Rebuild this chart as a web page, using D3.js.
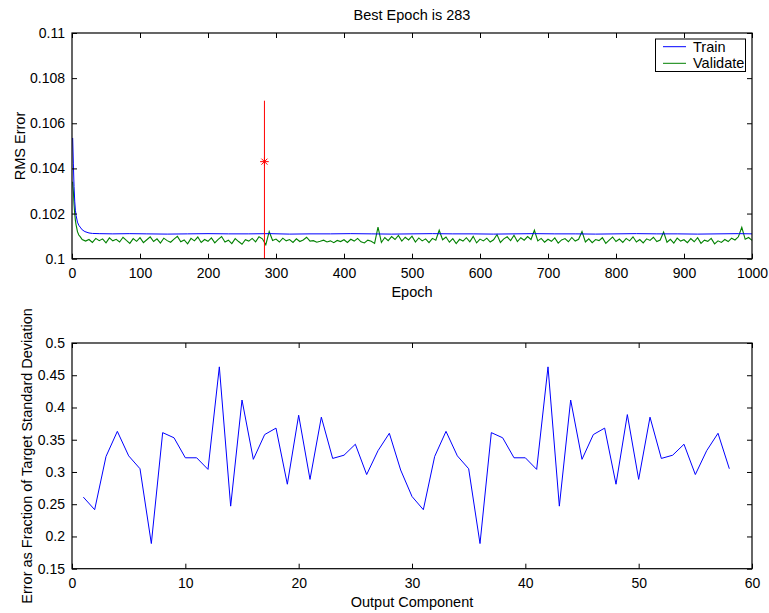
<!DOCTYPE html>
<html>
<head>
<meta charset="utf-8">
<script src="https://cdn.jsdelivr.net/npm/d3@7"></script>
<style>
  body { margin: 0; background: #fff; }
  svg { display: block; font-family: "Liberation Sans", Arial, sans-serif; }
  .domain { display: none; }
  .tick line { stroke: #000; }
</style>
</head>
<body>
<svg id="chart" width="769" height="613"></svg>
<script>
// top panel: performance per epoch
const bestEpoch = 283;
const bestMarker = 0.1043;
const bestLineTop = 0.107;

const trainEpochs = [1, 2, 3, 4, 5, 6, 8, 10, 12, 15, 19, 25, 30, 40, 60, 85, 110, 140, 170, 200, 230, 260, 290, 320, 350, 380, 410, 440, 470, 500, 530, 560, 590, 620, 650, 680, 710, 740, 770, 800, 830, 860, 890, 920, 950, 980, 1000];
const trainValues = [0.10535, 0.1042, 0.1032, 0.10255, 0.10215, 0.10192, 0.10162, 0.10148, 0.1014, 0.10128, 0.1012, 0.10114, 0.10112, 0.10111, 0.1011, 0.10111, 0.1011, 0.10109, 0.1011, 0.10111, 0.1011, 0.1011, 0.10111, 0.10109, 0.1011, 0.1011, 0.10111, 0.1011, 0.10109, 0.1011, 0.10111, 0.1011, 0.1011, 0.10109, 0.1011, 0.10111, 0.1011, 0.1011, 0.10109, 0.1011, 0.10111, 0.1011, 0.1011, 0.10109, 0.1011, 0.10111, 0.1011];

const validateEpochs = [1, 2, 3, 4, 5, 6, 7, 8, 10, 12, 15].concat(d3.range(20, 1001, 5));
const validateValues = [
  0.10341, 0.103, 0.1024, 0.102, 0.1017, 0.1015, 0.10135, 0.1012, 0.10105, 0.10098, 0.10085,
  0.10078, 0.10085, 0.10072, 0.1009, 0.1008, 0.10088, 0.1007, 0.10092, 0.10079, 0.10086,
  0.10074, 0.10095, 0.10081, 0.10068, 0.10089, 0.10077, 0.10093, 0.10071, 0.10084, 0.10097,
  0.10076, 0.10088, 0.10069, 0.10091, 0.1008, 0.10073, 0.10087, 0.10099, 0.10075, 0.10083,
  0.10066, 0.1009, 0.10079, 0.10096, 0.10072, 0.10085, 0.10077, 0.10092, 0.1007, 0.10086,
  0.10098, 0.10074, 0.10082, 0.10067, 0.10089, 0.10076, 0.10064, 0.10084, 0.10078, 0.1009,
  0.10075, 0.10097, 0.10088, 0.10062, 0.1012, 0.10081, 0.10087, 0.10074, 0.10091, 0.10079,
  0.10085, 0.10072, 0.10088, 0.10076, 0.10083, 0.10095, 0.10078, 0.1008, 0.10073, 0.10077,
  0.10082, 0.10074, 0.10079, 0.10071, 0.10081, 0.10076, 0.10084, 0.10072, 0.10086, 0.10078,
  0.1009, 0.10075, 0.1007, 0.10082, 0.10077, 0.10068, 0.1014, 0.10072, 0.10094, 0.1008,
  0.10098, 0.10085, 0.10103, 0.10078, 0.10095, 0.10083, 0.101, 0.10074, 0.10092, 0.10079,
  0.10088, 0.10071, 0.1009, 0.10082, 0.10126, 0.10084, 0.10096, 0.10073, 0.10089, 0.10067,
  0.10086, 0.10078, 0.10093, 0.10075, 0.10099, 0.1007, 0.10087, 0.10079, 0.10091, 0.10074,
  0.10084, 0.10107, 0.10072, 0.10088, 0.10097, 0.1008, 0.10104, 0.10076, 0.10093, 0.10082,
  0.10098, 0.10085, 0.10126, 0.10079, 0.1009, 0.10073, 0.10086, 0.10077, 0.10092, 0.10069,
  0.10083, 0.10089, 0.10075, 0.10094, 0.10078, 0.10086, 0.1012, 0.10074, 0.10088, 0.10071,
  0.10085, 0.1008, 0.10093, 0.10068, 0.10082, 0.10096, 0.10076, 0.10087, 0.10072, 0.1009,
  0.10079, 0.10097, 0.10074, 0.10085, 0.1007, 0.10088, 0.10081, 0.10095, 0.10076, 0.10083,
  0.10118, 0.10073, 0.10086, 0.10069, 0.10091, 0.10078, 0.10084, 0.10071, 0.10089, 0.10075,
  0.10093, 0.10068, 0.10082, 0.10077, 0.1009, 0.10066, 0.10079, 0.10072, 0.10085, 0.10076,
  0.10091, 0.10083, 0.10097, 0.10139, 0.10086, 0.10094, 0.10081
];

const epochTicks = [0, 100, 200, 300, 400, 500, 600, 700, 800, 900, 1000];
const rmsTicks = [0.1, 0.102, 0.104, 0.106, 0.108, 0.11];

// bottom panel: error per output component
const components = d3.range(1, 59);
const componentErrors = [
  0.261, 0.2415, 0.324, 0.363, 0.325, 0.305, 0.189, 0.361, 0.353, 0.322,
  0.322, 0.304, 0.463, 0.247, 0.4116, 0.3196, 0.358, 0.368, 0.281, 0.388,
  0.2885, 0.385, 0.321, 0.326, 0.343, 0.296, 0.333, 0.36, 0.303, 0.262,
  0.2415, 0.324, 0.363, 0.325, 0.305, 0.189, 0.361, 0.353, 0.322, 0.322,
  0.304, 0.463, 0.247, 0.4116, 0.3196, 0.358, 0.368, 0.281, 0.389, 0.2885,
  0.385, 0.321, 0.326, 0.343, 0.296, 0.333, 0.36, 0.305
];
const componentTicks = [0, 10, 20, 30, 40, 50, 60];
const errorTicks = [0.15, 0.2, 0.25, 0.3, 0.35, 0.4, 0.45, 0.5];

const svg = d3.select("#chart");
const left = 72, right = 752;
const font = '"Liberation Sans", Arial, sans-serif';

function styleTicks(g) {
  g.attr("font-family", font).attr("font-size", 14);
  g.selectAll("text").style("font-size", "14px").style("font-family", font).attr("fill", "#000");
}

function drawFrame(g, x, y, xTicks, yTicks, yFmt) {
  const [y0, y1] = y.range();
  g.append("g").attr("transform", `translate(0,${y0})`)
    .call(d3.axisBottom(x).tickValues(xTicks).tickSizeInner(-5).tickSizeOuter(0).tickPadding(9).tickFormat((d) => String(d)))
    .call(styleTicks);
  g.append("g").attr("transform", `translate(0,${y1})`)
    .call(d3.axisTop(x).tickValues(xTicks).tickSizeInner(-5).tickSizeOuter(0).tickFormat(""));
  g.append("g").attr("transform", `translate(${left},0)`)
    .call(d3.axisLeft(y).tickValues(yTicks).tickSizeInner(-5).tickSizeOuter(0).tickPadding(7).tickFormat(yFmt))
    .call(styleTicks);
  g.append("g").attr("transform", `translate(${right},0)`)
    .call(d3.axisRight(y).tickValues(yTicks).tickSizeInner(-5).tickSizeOuter(0).tickFormat(""));
  g.append("rect")
    .attr("x", left).attr("y", y1)
    .attr("width", right - left).attr("height", y0 - y1)
    .attr("fill", "none").attr("stroke", "#000").attr("stroke-width", 1.2);
}

// ---- top panel
const xEpoch = d3.scaleLinear().domain([0, 1000]).range([left, right]);
const yRms = d3.scaleLinear().domain([0.1, 0.11]).range([258.7, 33]);
const topPanel = svg.append("g");

const perfLine = d3.line().x((d) => xEpoch(d[0])).y((d) => yRms(d[1]));
topPanel.append("path")
  .datum(d3.zip(validateEpochs, validateValues))
  .attr("d", perfLine).attr("fill", "none").attr("stroke", "#008000").attr("stroke-width", 1.1);
topPanel.append("path")
  .datum(d3.zip(trainEpochs, trainValues))
  .attr("d", perfLine).attr("fill", "none").attr("stroke", "#0000ff").attr("stroke-width", 1);

topPanel.append("line")
  .attr("x1", xEpoch(bestEpoch)).attr("x2", xEpoch(bestEpoch))
  .attr("y1", yRms(0.1)).attr("y2", yRms(bestLineTop))
  .attr("stroke", "#ff0000").attr("stroke-width", 1);

const sx = xEpoch(bestEpoch), sy = yRms(bestMarker), r = 4.3;
topPanel.append("path")
  .attr("d", `M${sx - r},${sy}H${sx + r}M${sx},${sy - r}V${sy + r}` +
    `M${sx - r * 0.7},${sy - r * 0.7}L${sx + r * 0.7},${sy + r * 0.7}` +
    `M${sx - r * 0.7},${sy + r * 0.7}L${sx + r * 0.7},${sy - r * 0.7}`)
  .attr("stroke", "#ff0000").attr("stroke-width", 1).attr("fill", "none");

drawFrame(topPanel, xEpoch, yRms, epochTicks, rmsTicks, (d) => String(+d.toFixed(3)));

topPanel.append("text").attr("x", 412).attr("y", 20).attr("text-anchor", "middle")
  .attr("font-size", 14.5).text("Best Epoch is 283");
topPanel.append("text").attr("x", 412).attr("y", 297).attr("text-anchor", "middle")
  .attr("font-size", 14.5).text("Epoch");
topPanel.append("text").attr("transform", "translate(25,146) rotate(-90)").attr("text-anchor", "middle")
  .attr("font-size", 14.5).text("RMS Error");

// legend
const legend = topPanel.append("g");
legend.append("rect").attr("x", 655.5).attr("y", 39).attr("width", 90).attr("height", 32.5)
  .attr("fill", "#fff").attr("stroke", "#000").attr("stroke-width", 1);
[["Train", "#0000ff", 46.7], ["Validate", "#008000", 63.3]].forEach(([label, color, ly]) => {
  legend.append("line").attr("x1", 663).attr("x2", 686).attr("y1", ly).attr("y2", ly)
    .attr("stroke", color).attr("stroke-width", 1);
  legend.append("text").attr("x", 693).attr("y", ly + 5).attr("font-size", 14.5).text(label);
});

// ---- bottom panel
const xComp = d3.scaleLinear().domain([0, 60]).range([left, right]);
const yErr = d3.scaleLinear().domain([0.15, 0.5]).range([568.7, 343]);
const bottomPanel = svg.append("g");

bottomPanel.append("path")
  .datum(d3.zip(components, componentErrors))
  .attr("d", d3.line().x((d) => xComp(d[0])).y((d) => yErr(d[1])))
  .attr("fill", "none").attr("stroke", "#0000ff").attr("stroke-width", 1);

drawFrame(bottomPanel, xComp, yErr, componentTicks, errorTicks, (d) => String(+d.toFixed(2)));

bottomPanel.append("text").attr("x", 412).attr("y", 607).attr("text-anchor", "middle")
  .attr("font-size", 14.5).text("Output Component");
bottomPanel.append("text").attr("transform", "translate(32,456) rotate(-90)").attr("text-anchor", "middle")
  .attr("font-size", 14.5).text("Error as Fraction of Target Standard Deviation");
</script>
</body>
</html>
